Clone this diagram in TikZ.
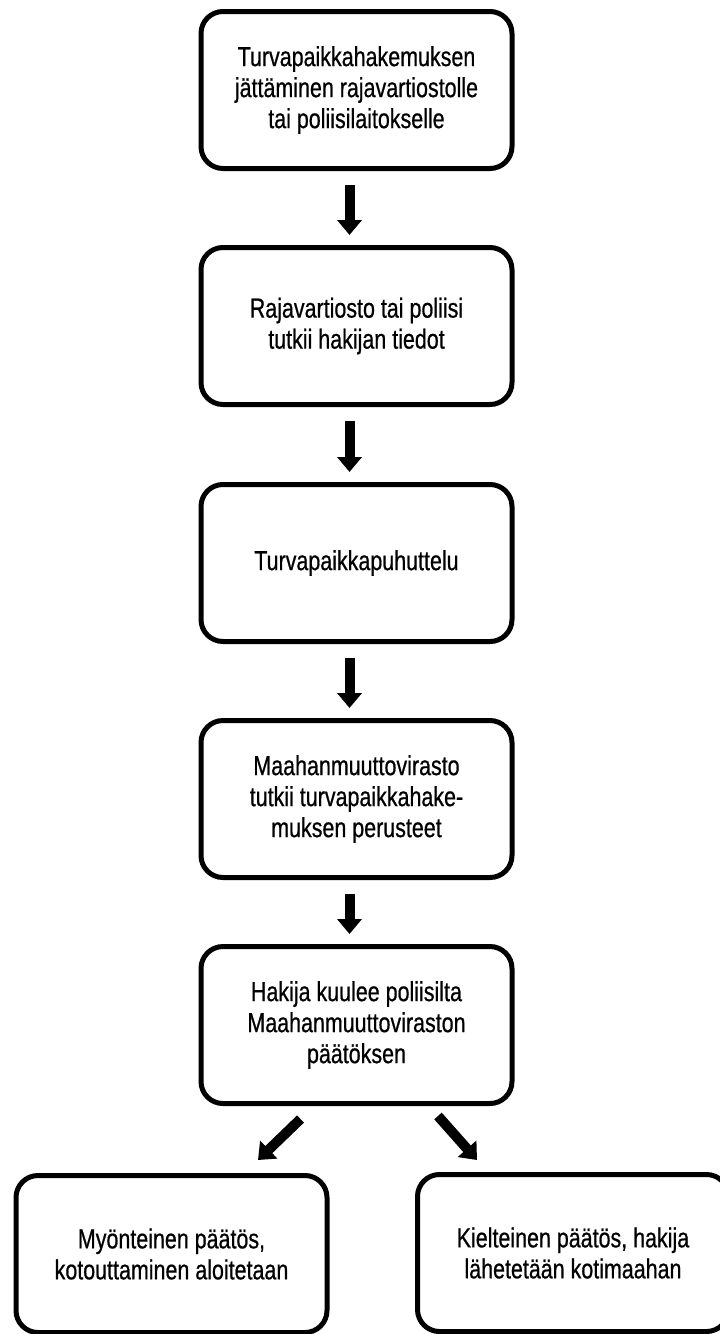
\documentclass[tikz,border=0pt]{standalone}
\usepackage{fontspec}
\setmainfont{Liberation Sans}[FakeStretch=0.78,FakeBold=0.6]
\usetikzlibrary{arrows.meta,calc}
\begin{document}
\begin{tikzpicture}[x=1pt,y=-1pt,
  box/.style={draw=black, line width=5pt, rounded corners=22pt,
    minimum width=311pt, minimum height=157pt, align=center,
    font=\fontsize{27.5}{31}\selectfont, inner sep=0pt},
  blockarrow/.style={line width=10pt, -{Triangle[width=24pt,length=15pt]}}]
\useasboundingbox (0,0) rectangle (720,1334);
\fill[white] (0,0) rectangle (720,1334);
\node[box] (b1) at (356.5,90) {Turvapaikkahakemuksen\\jättäminen rajavartiostolle\\tai poliisilaitokselle};
\node[box] (b2) at (356.5,326) {Rajavartiosto tai poliisi\\tutkii hakijan tiedot};
\node[box] (b3) at (356.5,563) {Turvapaikkapuhuttelu};
\node[box] (b4) at (356.5,799) {Maahanmuuttovirasto\\tutkii turvapaikkahake-\\muksen perusteet};
\node[box] (b5) at (356.5,1025) {Hakija kuulee poliisilta\\Maahanmuuttoviraston\\päätöksen};
\node[box] (bl) at (171.5,1254) {Myönteinen päätös,\\kotouttaminen aloitetaan};
\node[box] (br) at (573,1253) {Kielteinen päätös, hakija\\lähetetään kotimaahan};
\foreach \a/\b in {b1/b2,b2/b3,b3/b4,b4/b5}
  \draw[blockarrow, shorten <=14pt, shorten >=10pt]
    ([xshift=-7pt]\a.south) -- ([xshift=-7pt]\b.north);
\coordinate (ls) at ($(b5.south)+(-56,13)$);
\coordinate (le) at ($(bl.north)+(86.5,-13)$);
\coordinate (rs) at ($(b5.south)+(81.5,10)$);
\coordinate (re) at ($(br.north)+(-96,-12)$);
\draw[blockarrow] (ls) -- (le);
\draw[blockarrow] (rs) -- (re);
\end{tikzpicture}
\end{document}
